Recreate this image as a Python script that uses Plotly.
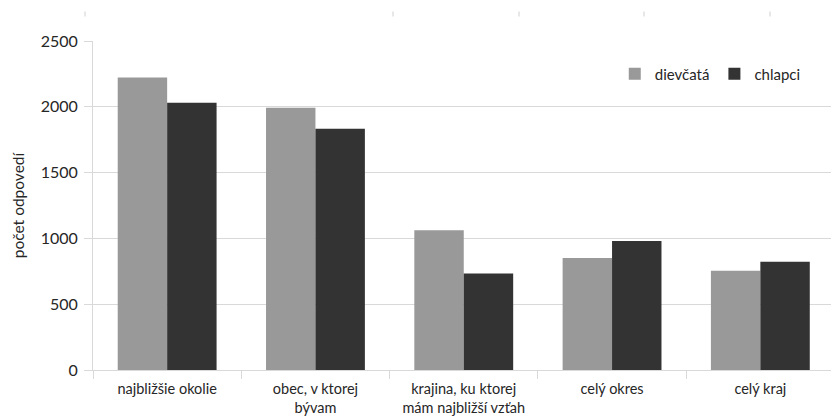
import plotly.graph_objects as go

# Responses per spatial level, by gender
categories = [
    "najbližšie okolie",
    "obec, v ktorej<br>bývam",
    "krajina, ku ktorej<br>mám najbližší vzťah",
    "celý okres",
    "celý kraj",
]
dievcata = [2223, 1993, 1062, 852, 754]
chlapci = [2031, 1834, 733, 981, 822]
series_names = ["dievčatá", "chlapci"]
y_ticks = [0, 500, 1000, 1500, 2000, 2500]

W, H = 831, 417
ML, MR, MT, MB = 93, 0, 41, 47
FONT = "Lato"
TEXT = "#262626"
GRID = "#d9d9d9"

fig = go.Figure()
fig.add_trace(go.Bar(x=categories, y=dievcata, name=series_names[0],
                     marker=dict(color="#999999", line=dict(width=0))))
fig.add_trace(go.Bar(x=categories, y=chlapci, name=series_names[1],
                     marker=dict(color="#333333", line=dict(width=0))))

# one category occupies ~148 px; the right edge cuts into the last slot
cat_px = 148.3
plot_w = W - ML - MR
x_hi = -0.5 + plot_w / cat_px

# small marks along the top edge of the page
shapes = []
for px in [85, 393, 519, 644, 770]:
    xp = (px - ML) / plot_w
    shapes.append(dict(type="line", xref="paper", yref="paper",
                       x0=xp, x1=xp,
                       y0=(H - MB - 11.5) / (H - MT - MB),
                       y1=(H - MB - 16.5) / (H - MT - MB),
                       line=dict(color="#d0d0d0", width=1)))

fig.update_layout(
    width=W, height=H,
    margin=dict(l=ML, r=MR, t=MT, b=MB, pad=0),
    paper_bgcolor="white", plot_bgcolor="white",
    barmode="group", bargap=1/3, bargroupgap=0,
    font=dict(family=FONT, size=15, color=TEXT),
    showlegend=True,
    legend=dict(orientation="h", x=0.707, y=0.9, xanchor="left", yanchor="middle",
                font=dict(family=FONT, size=15, color=TEXT),
                itemwidth=30, bgcolor="rgba(0,0,0,0)", traceorder="normal"),
    shapes=shapes,
    xaxis=dict(
        range=[-0.5, x_hi], type="category", automargin=False,
        tickson="boundaries", ticks="outside", ticklen=8, tickcolor=GRID,
        showgrid=False, showline=True, linecolor=GRID, linewidth=1,
        tickfont=dict(family=FONT, size=14.5, color=TEXT),
        ticklabelstandoff=6,
    ),
    yaxis=dict(
        range=[0, 2500], tickvals=y_ticks, automargin=False,
        ticks="outside", ticklen=8, tickcolor=GRID,
        showgrid=True, gridcolor=GRID, gridwidth=1,
        showline=True, linecolor=GRID, linewidth=1,
        zeroline=False,
        tickfont=dict(family=FONT, size=16, color=TEXT),
        ticklabelstandoff=3,
        title=dict(text="počet odpovedí", font=dict(family=FONT, size=15.5, color=TEXT),
                   standoff=12),
    ),
)

fig.write_html("out.html")
